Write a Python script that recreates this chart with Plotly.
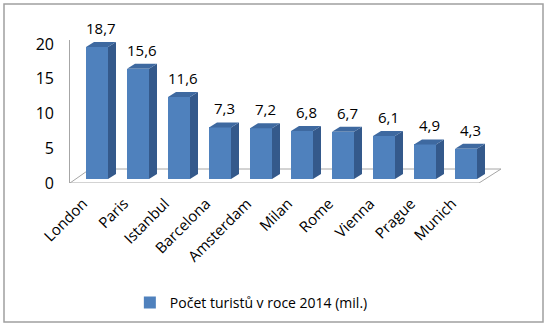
import plotly.graph_objects as go

cities = ["London", "Paris", "Istanbul", "Barcelona", "Amsterdam", "Milan", "Rome", "Vienna", "Prague", "Munich"]
tourists = [18.7, 15.6, 11.6, 7.3, 7.2, 6.8, 6.7, 6.1, 4.9, 4.3]
value_labels = ["18,7", "15,6", "11,6", "7,3", "7,2", "6,8", "6,7", "6,1", "4,9", "4,3"]
y_ticks = [0, 5, 10, 15, 20]
series_name = "Počet turistů v roce 2014 (mil.)"

W, H = 550, 329
FONT = "Open Sans"
FRONT = "#4F81BD"
SIDE = "#34598B"
TOP = "#3E69A0"
GRID = "#A6A6A6"

# pixel geometry of the plot area
px_left, px_right = 70, 505
px_top, px_bottom = 40, 183
unit_x = 41.0          # px per category
x0_px = 97.0           # px of first category centre
unit_y = 7.06          # px per value unit
zero_px = 179.0        # px of value 0 (bar base)

xr = [(px_left - x0_px) / unit_x, (px_right - x0_px) / unit_x]
yr = [(zero_px - px_bottom) / unit_y, (zero_px - px_top) / unit_y]
label_shift = 14 / unit_x
xr_labels = [xr[0] + label_shift, xr[1] + label_shift]

bar_w = 22 / unit_x
dx = 8 / unit_x
dy = 5 / unit_y

xs = list(range(len(cities)))

fig = go.Figure()


def px2x(p):
    return (p - x0_px) / unit_x


def px2y(p):
    return (zero_px - p) / unit_y


# floor outline (drawn below the traces)
fx = [px2x(70), px2x(90), px2x(501), px2x(479)]
fy = [px2y(183), px2y(169), px2y(169), px2y(183)]
floor_path = "M {} {} L {} {} L {} {} L {} {} Z".format(fx[0], fy[0], fx[1], fy[1], fx[2], fy[2], fx[3], fy[3])

# front faces
fig.add_trace(go.Bar(x=xs, y=tourists, width=bar_w, marker=dict(color=FRONT, line=dict(width=0)),
                     name=series_name, showlegend=True))

# side and top faces
sx, sy, tx, ty = [], [], [], []
for x, v in zip(xs, tourists):
    r = x + bar_w / 2
    l = x - bar_w / 2
    sx += [r, r + dx, r + dx, r, r, None]
    sy += [0, dy, v + dy, v, 0, None]
    tx += [l, l + dx, r + dx, r, l, None]
    ty += [v, v + dy, v + dy, v, v, None]
fig.add_trace(go.Scatter(x=sx, y=sy, mode="lines", fill="toself", fillcolor=SIDE,
                         line=dict(width=0, color=SIDE), showlegend=False, hoverinfo="skip",
                         cliponaxis=False))
fig.add_trace(go.Scatter(x=tx, y=ty, mode="lines", fill="toself", fillcolor=TOP,
                         line=dict(width=0, color=TOP), showlegend=False, hoverinfo="skip",
                         cliponaxis=False))

# value labels
for x, v, t in zip(xs, tourists, value_labels):
    fig.add_annotation(x=x + dx / 2, y=v + dy, text=t, showarrow=False, xref="x", yref="y",
                       yanchor="bottom", yshift=2, font=dict(family=FONT, size=15, color="#000"))

# invisible traces for label axes
fig.add_trace(go.Scatter(x=[0], y=[0], yaxis="y2", mode="markers",
                         marker=dict(opacity=0), showlegend=False, hoverinfo="skip"))
fig.add_trace(go.Scatter(x=[0], y=[0], xaxis="x2", mode="markers",
                         marker=dict(opacity=0), showlegend=False, hoverinfo="skip"))

fig.update_layout(
    width=W, height=H,
    margin=dict(l=0, r=0, t=0, b=0),
    paper_bgcolor="white", plot_bgcolor="rgba(0,0,0,0)",
    font=dict(family=FONT, size=14, color="#000"),
    xaxis=dict(domain=[px_left / W, px_right / W], range=xr, showgrid=False,
               zeroline=False, showline=False, ticks="", showticklabels=False,
               automargin=False),
    xaxis2=dict(domain=[px_left / W, px_right / W], range=xr_labels, overlaying="x",
                anchor="y", side="bottom", tickmode="array", tickvals=xs, ticktext=cities,
                tickangle=-45, showgrid=False, zeroline=False, showline=False, ticks="",
                ticklabelstandoff=8, tickfont=dict(size=15), automargin=False),
    yaxis=dict(domain=[1 - px_bottom / H, 1 - px_top / H], range=yr, showgrid=False,
               zeroline=False, showline=True, linecolor=GRID, linewidth=1,
               showticklabels=False, ticks="", automargin=False),
    yaxis2=dict(domain=[1 - px_bottom / H, 1 - px_top / H], overlaying="y", side="left",
                anchor="x", range=[0, (px_bottom - px_top) / 6.95], tickvals=y_ticks,
                showgrid=False, zeroline=False, showline=False, ticks="",
                ticklabelstandoff=15, tickfont=dict(size=16), automargin=False),
    legend=dict(orientation="h", x=0.457, xanchor="center", y=1 - 303 / H, yanchor="middle",
                font=dict(size=14), itemwidth=30),
    bargap=0,
    shapes=[
        dict(type="rect", xref="paper", yref="paper",
             x0=4 / W, x1=543 / W, y0=1 - 322 / H, y1=1 - 4 / H,
             line=dict(color="#A0A0A0", width=1.5), fillcolor="rgba(0,0,0,0)",
             layer="below"),
        dict(type="path", xref="x", yref="y", path=floor_path,
             line=dict(color=GRID, width=1), fillcolor="rgba(0,0,0,0)", layer="below"),
    ],
)

fig.write_html("out.html")
